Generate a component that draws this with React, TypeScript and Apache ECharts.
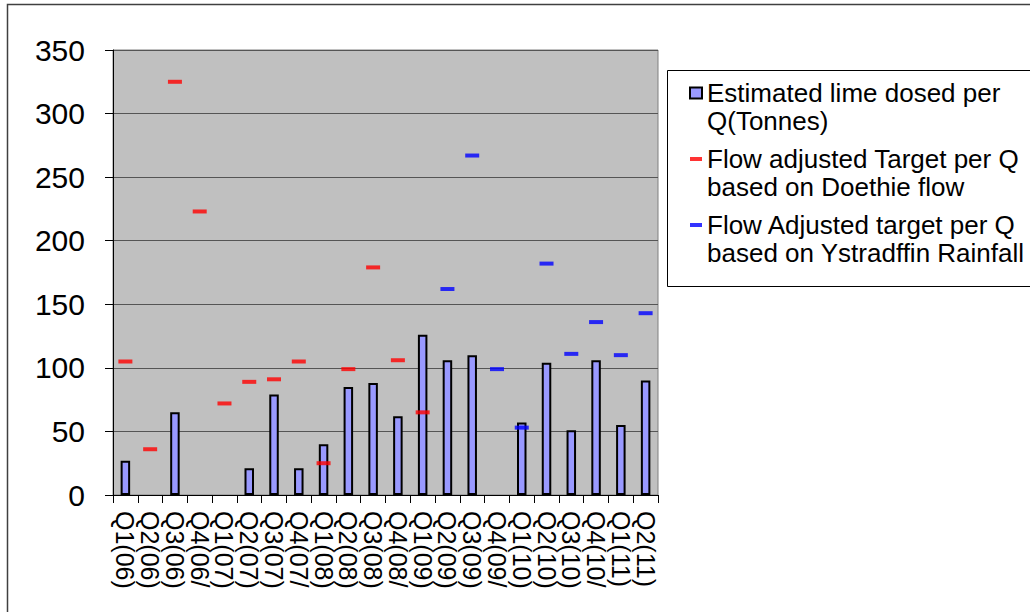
import React, { useEffect, useRef } from "react";
import * as echarts from "echarts";

const categories = [
  "Q1(06)", "Q2(06)", "Q3(06)", "Q4(06/", "Q1(07)", "Q2(07)", "Q3(07)", "Q4(07/",
  "Q1(08)", "Q2(08)", "Q3(08)", "Q4(08/", "Q1(09)", "Q2(09)", "Q3(09)", "Q4(09/",
  "Q1(10)", "Q2(10)", "Q3(10)", "Q4(10/", "Q1(11)", "Q2(11)",
];

const limeDosed = [27, null, 65, null, null, 21, 79, 21, 40, 85, 88, 62, 126, 106, 110, null, 57, 104, 51, 106, 55, 90];

const doethieTarget = [105, 36, 325, 223, 72, 89, 91, 105, 25, 99, 179, 106, 65, null, null, null, null, null, null, null, null, null];

const ystradffinTarget = [null, null, null, null, null, null, null, null, null, null, null, null, null, 162, 267, 99, 53, 182, 111, 136, 110, 143];

const yTicks = { min: 0, max: 350, interval: 50 };

const seriesNames = {
  lime: "Estimated lime dosed per Q(Tonnes)",
  doethie: "Flow adjusted Target per Q based on Doethie flow",
  ystrad: "Flow Adjusted target per Q based on Ystradffin Rainfall",
};

const legendLabels: Record<string, string> = {
  [seriesNames.lime]: "\u00a0\nEstimated lime dosed per\nQ(Tonnes)",
  [seriesNames.doethie]: "\u00a0\nFlow adjusted Target per Q\nbased on Doethie flow",
  [seriesNames.ystrad]: "\u00a0\nFlow Adjusted target per Q\nbased on Ystradffin Rainfall",
};

const FONT = "'Liberation Sans', Arial, sans-serif";

export default function App() {
  const ref = useRef<HTMLDivElement>(null);
  useEffect(() => {
    if (!ref.current) return;
    const chart = echarts.init(ref.current, null, { renderer: "svg" });
    const dash = "path://M0,0h3v1h-3z";
    chart.setOption({
      animation: false,
      backgroundColor: "#ffffff",
      textStyle: { fontFamily: FONT },
      graphic: [
        {
          type: "rect",
          shape: { x: 7.5, y: 4.5, width: 1100, height: 700 },
          style: { fill: "none", stroke: "#404040", lineWidth: 1.5 },
          silent: true,
        },
        {
          type: "rect",
          shape: { x: 667.5, y: 70.5, width: 500, height: 216 },
          style: { fill: "#ffffff", stroke: "#000000", lineWidth: 1 },
          silent: true,
          z: -1,
        },
      ],
      grid: {
        left: 113,
        right: 372,
        top: 50,
        bottom: 117,
        show: true,
        backgroundColor: "#C0C0C0",
        borderColor: "#808080",
        borderWidth: 1,
      },
      legend: {
        orient: "vertical",
        left: 689,
        top: 51,
        padding: 0,
        itemGap: -18,
        itemWidth: 12,
        itemHeight: 11,
        selectedMode: false,
        formatter: (name: string) => legendLabels[name] || name,
        textStyle: {
          fontFamily: FONT,
          fontSize: 26,
          color: "#000",
          lineHeight: 28,
        },
        data: [
          { name: seriesNames.lime, icon: "rect" },
          { name: seriesNames.doethie, icon: dash },
          { name: seriesNames.ystrad, icon: dash },
        ],
      },
      xAxis: {
        type: "category",
        data: categories,
        axisLine: { show: true, lineStyle: { color: "#000", width: 1 } },
        axisTick: { show: true, length: 8, lineStyle: { color: "#000" } },
        axisLabel: {
          interval: 0,
          rotate: -90,
          fontSize: 25,
          color: "#000",
          margin: 16,
          fontFamily: FONT,
        },
        splitLine: { show: false },
      },
      yAxis: {
        type: "value",
        min: yTicks.min,
        max: yTicks.max,
        interval: yTicks.interval,
        axisLine: { show: true, lineStyle: { color: "#000", width: 1 } },
        axisTick: { show: true, length: 8, lineStyle: { color: "#000" } },
        axisLabel: { fontSize: 30, color: "#000", margin: 28, fontFamily: FONT },
        splitLine: { show: true, lineStyle: { color: "#555", width: 1 } },
      },
      series: [
        {
          name: seriesNames.lime,
          type: "bar",
          data: limeDosed,
          barWidth: 9.5,
          itemStyle: { color: "#9999FF", borderColor: "#000", borderWidth: 2 },
        },
        {
          name: seriesNames.doethie,
          type: "scatter",
          data: doethieTarget,
          symbol: "rect",
          symbolSize: [14, 4],
          itemStyle: { color: "#FF0000" },
        },
        {
          name: seriesNames.ystrad,
          type: "scatter",
          data: ystradffinTarget,
          symbol: "rect",
          symbolSize: [14, 4],
          itemStyle: { color: "#0000FF" },
        },
      ],
    });
    return () => chart.dispose();
  }, []);
  return (
    <div
      ref={ref}
      style={{ position: "absolute", left: 0, top: 0, width: 1030, height: 612 }}
    />
  );
}
